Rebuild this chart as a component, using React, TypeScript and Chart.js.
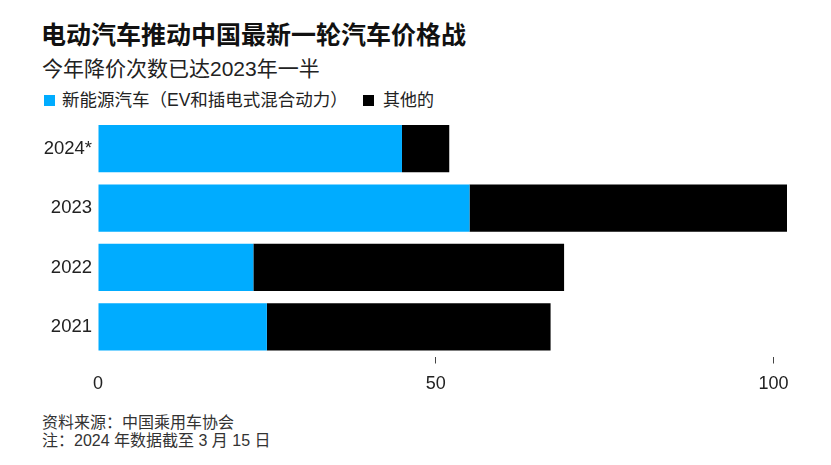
import React, { useEffect, useRef } from "react";
import { Chart, registerables } from "chart.js";

Chart.register(...registerables);

const categories = ["2024*", "2023", "2022", "2021"];
const nevValues = [45, 55, 23, 25];
const otherValues = [7, 47, 46, 42];
const tickValues = [0, 50, 100];
const seriesNames = ["新能源汽车（EV和插电式混合动力）", "其他的"];
const seriesColors = ["#00acff", "#000000"];

const FONT = '"Liberation Sans", "Noto Sans CJK SC", Arial, sans-serif';

export default function App() {
  const canvasRef = useRef<HTMLCanvasElement | null>(null);

  useEffect(() => {
    if (!canvasRef.current) return;
    const chart = new Chart(canvasRef.current, {
      type: "bar",
      data: {
        labels: categories,
        datasets: [
          {
            label: seriesNames[0],
            data: nevValues,
            backgroundColor: seriesColors[0],
            borderWidth: 0,
            barPercentage: 0.795,
            categoryPercentage: 1,
          },
          {
            label: seriesNames[1],
            data: otherValues,
            backgroundColor: seriesColors[1],
            borderWidth: 0,
            barPercentage: 0.795,
            categoryPercentage: 1,
          },
        ],
      },
      options: {
        indexAxis: "y",
        responsive: false,
        maintainAspectRatio: false,
        animation: false,
        layout: { padding: { top: 9, right: 44, left: 0, bottom: 0 } },
        plugins: {
          legend: { display: false },
          tooltip: { enabled: false },
          title: { display: false },
        },
        scales: {
          x: {
            stacked: true,
            min: 0,
            max: 102,
            border: { display: false },
            grid: {
              drawOnChartArea: false,
              drawTicks: true,
              tickLength: 7,
              color: (ctx: any) =>
                ctx.tick && ctx.tick.value === 0 ? "rgba(0,0,0,0)" : "#444",
              lineWidth: 1,
            },
            afterBuildTicks: (axis: any) => {
              axis.ticks = tickValues.map((v) => ({ value: v }));
            },
            afterFit: (axis: any) => {
              axis.height = 53.5;
              axis.paddingLeft = 0;
              axis.paddingRight = 0;
            },
            ticks: {
              padding: 10,
              color: "#222",
              font: { family: FONT, size: 18 },
              maxRotation: 0,
            },
          },
          y: {
            stacked: true,
            border: { display: false },
            grid: { display: false, drawTicks: false },
            afterFit: (axis: any) => {
              axis.width = 98;
              axis.paddingTop = 0;
              axis.paddingBottom = 0;
            },
            ticks: {
              padding: 6,
              color: "#222",
              font: { family: FONT, size: 18.5 },
            },
          },
        },
      },
    });
    return () => chart.destroy();
  }, []);

  const abs = (top: number, left: number, size: number, extra: any = {}) => ({
    position: "absolute" as const,
    top,
    left,
    fontSize: size,
    lineHeight: `${size}px`,
    fontFamily: FONT,
    whiteSpace: "nowrap" as const,
    margin: 0,
    ...extra,
  });

  return (
    <div
      style={{
        position: "absolute",
        left: 0,
        top: 0,
        width: 831,
        height: 465,
        background: "#fff",
        overflow: "hidden",
      }}
    >
      <div style={abs(23, 41, 25, { fontWeight: 700, color: "#111" })}>
        电动汽车推动中国最新一轮汽车价格战
      </div>
      <div style={abs(58, 42, 21, { color: "#222" })}>今年降价次数已达2023年一半</div>
      <div style={{ position: "absolute", top: 94.5, left: 44, width: 11, height: 11, background: seriesColors[0] }} />
      <div style={abs(92, 62, 17.5, { color: "#222" })}>{seriesNames[0]}</div>
      <div style={{ position: "absolute", top: 94.5, left: 363, width: 11, height: 11, background: seriesColors[1] }} />
      <div style={abs(92, 383, 17, { color: "#222" })}>{seriesNames[1]}</div>
      <canvas
        ref={canvasRef}
        width={831}
        height={300}
        style={{ position: "absolute", left: 0, top: 110, width: 831, height: 300 }}
      />
      <div style={abs(414.5, 42, 16, { color: "#333" })}>资料来源：中国乘用车协会</div>
      <div style={abs(433, 42, 16, { color: "#333" })}>注：2024 年数据截至 3 月 15 日</div>
    </div>
  );
}
